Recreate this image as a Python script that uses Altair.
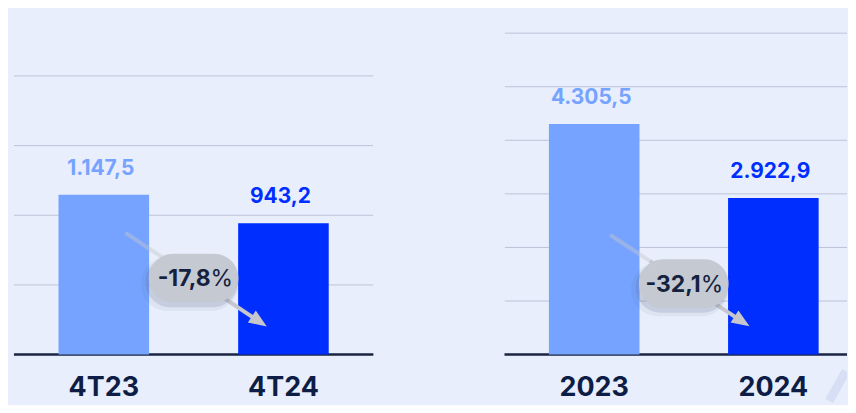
import altair as alt
import pandas as pd

# ---- data ----
quarters = ["4T23", "4T24"]
quarter_values = [1147.5, 943.2]
years = ["2023", "2024"]
year_values = [4305.5, 2922.9]
tones = ["anterior", "atual"]
quarter_grid = [500, 1000, 1500, 2000, 2500]
year_grid = [1000, 2000, 3000, 4000, 5000, 6000]

# ---- style ----
BG = "#E8EEFB"
LIGHT = "#75A3FF"
DARK = "#002EFF"
NAVY = "#0D1D45"
PILL_C = "#C4C9D2"
ARROW_C = "#C5C7CD"
FONT = "Inter"
H = 397

PILL = ("M -0.456 -0.544 L 0.456 -0.544 "
        "C 0.7564 -0.544 1 -0.3004 1 0 "
        "C 1 0.3004 0.7564 0.544 0.456 0.544 "
        "L -0.456 0.544 "
        "C -0.7564 0.544 -1 0.3004 -1 0 "
        "C -1 -0.3004 -0.7564 -0.544 -0.456 -0.544 Z")
HEAD = "M 1 0 L -1 -0.8 L -1 0.8 Z"


def br(v):
    s = f"{v:,.1f}"
    return s.replace(",", "X").replace(".", ",").replace("X", ".")


def panel(cats, vals, grid, width, xrange, ydomain, pill_y, arrow, angle, decor=None):
    df = pd.DataFrame({"cat": cats, "val": vals, "tone": tones,
                       "label": [br(v) for v in vals], "zero": [0, 0]})
    pct = (vals[1] / vals[0] - 1) * 100
    ann = pd.DataFrame({"cat": [cats[0]],
                        "num": [f"{pct:.1f}".replace(".", ",")],
                        "sym": ["%"]})
    xs = alt.Scale(domain=cats, range=xrange, paddingInner=0, paddingOuter=0)
    ys = alt.Scale(domain=ydomain, nice=False)
    X = alt.X("cat:N", scale=xs, axis=None)
    XB = alt.X("cat:N", scale=xs, axis=None, bandPosition=1)
    Y = alt.Y("val:Q", scale=ys, axis=None)
    color = alt.Color("tone:N", scale=alt.Scale(domain=tones, range=[LIGHT, DARK]),
                      legend=None)
    base = alt.Chart(df)
    annb = alt.Chart(ann)

    gridl = alt.Chart(pd.DataFrame({"g": grid})).mark_rule(
        color="#BDC4D8", strokeWidth=1, clip=True
    ).encode(y=alt.Y("g:Q", scale=ys, axis=None))
    baseline = base.mark_rule(color="#1B2442", strokeWidth=2).encode(
        y=alt.Y("zero:Q", scale=ys, axis=None))
    bars = base.mark_bar(size=91).encode(x=X, y=Y, color=color)
    vlabels = base.mark_text(font=FONT, fontSize=21, fontWeight="bold", dy=-20, dx=-3,
                             baseline="alphabetic").encode(
        x=X, y=Y, text="label:N", color=color)
    clabels = base.mark_text(font=FONT, fontSize=27, fontWeight="bold", color=NAVY,
                             dy=42, baseline="alphabetic", clip=True).encode(
        x=X, y=alt.Y("zero:Q", scale=ys, axis=None), text="cat:N")

    layers = [gridl, baseline, bars, vlabels, clabels]
    if decor is not None:
        layers.append(annb.mark_rule(strokeWidth=9, color="#D7DFF5", strokeCap="butt",
                                     clip=True).encode(
            x=alt.value(decor[0]), y=alt.value(decor[1]),
            x2=alt.value(decor[2]), y2=alt.value(decor[3])))

    # arrow: faint start, solid towards the head
    x0, y0, x1, y1 = arrow
    xm, ym = x0 + (x1 - x0) * 0.3, y0 + (y1 - y0) * 0.3
    shaft_a = annb.mark_rule(strokeWidth=4, color=ARROW_C, opacity=0.45,
                             strokeCap="butt").encode(
        x=alt.value(x0), y=alt.value(y0), x2=alt.value(xm), y2=alt.value(ym))
    shaft_b = annb.mark_rule(strokeWidth=4, color=ARROW_C, strokeCap="butt").encode(
        x=alt.value(xm), y=alt.value(ym), x2=alt.value(x1), y2=alt.value(y1))
    head = annb.mark_point(shape=HEAD, size=324, angle=angle, filled=True,
                           color=ARROW_C, opacity=1, strokeWidth=0).encode(
        x=alt.value(x1), y=alt.value(y1))
    shadow1 = annb.mark_point(shape=PILL, size=9600, filled=True, color="#56607A",
                              opacity=0.08, strokeWidth=0, xOffset=-4, yOffset=6).encode(
        x=XB, y=alt.value(pill_y))
    shadow2 = annb.mark_point(shape=PILL, size=8600, filled=True, color="#56607A",
                              opacity=0.16, strokeWidth=0, xOffset=-2, yOffset=4).encode(
        x=XB, y=alt.value(pill_y))
    pill = annb.mark_point(shape=PILL, size=8100, filled=True, color=PILL_C,
                           opacity=1, strokeWidth=0).encode(
        x=XB, y=alt.value(pill_y))
    num = annb.mark_text(font=FONT, fontSize=23, fontWeight="bold", color="#14213F",
                         align="right", dx=17, dy=8, baseline="alphabetic").encode(
        x=XB, y=alt.value(pill_y), text="num:N")
    sym = annb.mark_text(font=FONT, fontSize=23, fontWeight="normal", color="#14213F",
                         align="left", dx=17, dy=8, baseline="alphabetic").encode(
        x=XB, y=alt.value(pill_y), text="sym:N")
    layers += [shaft_a, shaft_b, head, shadow1, shadow2, pill, num, sym]
    return alt.layer(*layers).properties(width=width, height=H)


left = panel(quarters, quarter_values, quarter_grid, 361, [0, 361],
             [-355, 2480.7], 270.5, [112, 225, 246.5, 314], 33.5)
right = panel(years, year_values, year_grid, 344, [0, 360],
              [-923.3, 6451.8], 276, [106, 227, 238.5, 314], 33.3,
              decor=[343, 364, 326, 394])

chart = alt.hconcat(left, right, spacing=130).properties(
    padding={"left": 5, "right": 0, "top": 0, "bottom": 0},
    background=BG,
).configure_view(stroke=None)

chart.save("out.html", embed_options={"renderer": "svg", "actions": False})
